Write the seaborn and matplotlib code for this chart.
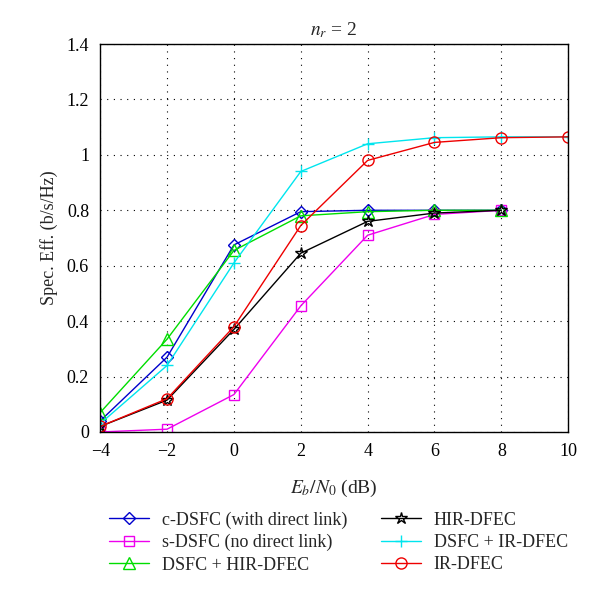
import matplotlib
matplotlib.use("Agg")
import matplotlib.pyplot as plt
import seaborn as sns
import pandas as pd

snr = [-4, -2, 0, 2, 4, 6, 8, 10]

c_dsfc = [0.04, 0.27, 0.675, 0.795, 0.80, 0.80, 0.80]
s_dsfc = [0.0, 0.01, 0.135, 0.455, 0.71, 0.785, 0.80]
dsfc_hir = [0.07, 0.335, 0.655, 0.78, 0.795, 0.80, 0.80]
hir_dfec = [0.02, 0.115, 0.37, 0.645, 0.76, 0.79, 0.80]
dsfc_ir = [0.03, 0.24, 0.61, 0.94, 1.04, 1.062, 1.065, 1.065]
ir_dfec = [0.02, 0.12, 0.38, 0.745, 0.98, 1.045, 1.062, 1.065]

labels = ["c-DSFC (with direct link)", "s-DSFC (no direct link)", "DSFC + HIR-DFEC",
          "HIR-DFEC", "DSFC + IR-DFEC", "IR-DFEC"]
series = [c_dsfc, s_dsfc, dsfc_hir, hir_dfec, dsfc_ir, ir_dfec]
colors = ["#0000cc", "#ee00ee", "#00dd00", "#000000", "#00e5ee", "#ee0000"]
markers = ["D", "s", "^", "*", "+", "o"]
msizes = [6, 7, 8, 9, 9, 8]

sns.set_style("white")
plt.rcParams["font.family"] = ["Liberation Serif", "DejaVu Serif"]
plt.rcParams["mathtext.fontset"] = "stix"

fig = plt.figure(figsize=(6, 5.95), dpi=100)
ax = fig.add_axes([0.167, 0.274, 0.78, 0.652])

for lab, vals, col, mk, ms in zip(labels, series, colors, markers, msizes):
    df = pd.DataFrame({"x": snr[:len(vals)], "y": vals})
    sns.lineplot(data=df, x="x", y="y", ax=ax, color=col, marker=mk, markersize=ms,
                 markerfacecolor="none", markeredgecolor=col, markeredgewidth=1.0,
                 linewidth=1.0, label=lab)

ax.set_xlim(-4, 10)
ax.set_ylim(0, 1.4)
ax.set_xticks(range(-4, 11, 2))
ax.set_yticks([0, 0.2, 0.4, 0.6, 0.8, 1.0, 1.2, 1.4])
ax.set_yticklabels(["0", "0.2", "0.4", "0.6", "0.8", "1", "1.2", "1.4"])
ax.set_xticklabels(["\u22124", "\u22122", "0", "2", "4", "6", "8", "10"])
ax.tick_params(direction="in", length=4, labelsize=13, colors="black", pad=8)
ax.grid(True, linestyle=(0, (1, 5)), color="black", linewidth=0.8)
for s in ax.spines.values():
    s.set_color("black")
    s.set_linewidth(1.0)

ax.set_xlabel(r"$E_b/N_0$ (dB)", fontsize=14, labelpad=13)
ax.set_ylabel("Spec. Eff. (b/s/Hz)", fontsize=13, labelpad=6)
ax.set_title(r"$n_r$ = 2", fontsize=14, pad=6)

handles, labs = ax.get_legend_handles_labels()
ax.get_legend().remove()
fig.legend(handles, labs, loc="upper left", bbox_to_anchor=(0.155, 0.168), ncol=2,
           frameon=False, fontsize=13, handlelength=2.2, columnspacing=1.9,
           labelspacing=0.3, handletextpad=0.7)

fig.savefig("out.png", dpi=100)
